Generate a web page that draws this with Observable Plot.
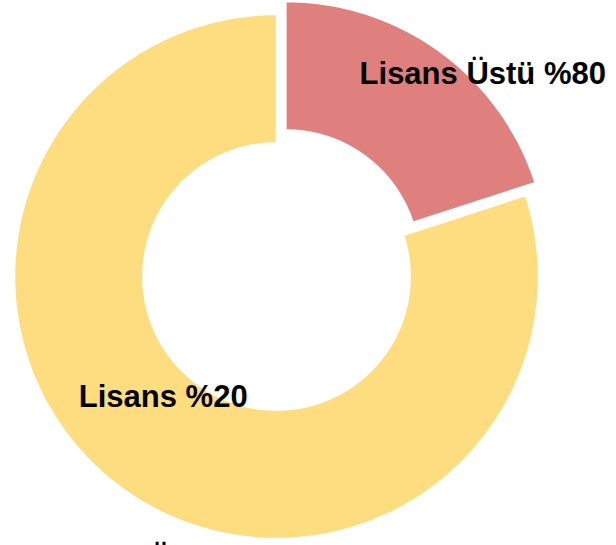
<!DOCTYPE html>
<html>
<head>
<meta charset="utf-8">
<script src="https://cdn.jsdelivr.net/npm/d3@7"></script>
<script src="https://cdn.jsdelivr.net/npm/@observablehq/plot@0.6"></script>
<style>
  html, body { margin: 0; padding: 0; background: #fff; overflow: hidden; }
  #chart svg { display: block; }
  #caption {
    width: 552px; text-align: center; margin-top: 7px;
    font: bold 31px "Liberation Sans", Arial, sans-serif; line-height: 31px; color: #000;
  }
</style>
</head>
<body>
<div id="chart"></div>
<div id="caption"></div>
<script>
// ---- data ----
const categories = ["Lisans Üstü", "Lisans"];
const shares = [20, 80];            // slice sizes (angle share)
const labelPercents = [80, 20];     // percentages as printed on the labels
const colors = ["#df7f7e", "#fedd81"];
const captionText = "Öğrenim Durumu";

// ---- build table ----
const rows = categories.map((c, i) => ({category: c, share: shares[i], pct: labelPercents[i]}));
const inner = 0.51;     // inner radius relative to outer
const explode = 0.061;  // offset of the first slice
const arcs = d3.pie().sort(null).value(d => d.share)(rows);

const points = [];
arcs.forEach((a, i) => {
  const mid = (a.startAngle + a.endAngle) / 2;
  const off = i === 0 ? explode : 0;
  const ox = Math.sin(mid) * off, oy = Math.cos(mid) * off;
  const n = Math.ceil((a.endAngle - a.startAngle) / (2 * Math.PI) * 240) + 1;
  for (let k = 0; k <= n; k++) {
    const t = a.startAngle + (a.endAngle - a.startAngle) * k / n;
    points.push({category: a.data.category, x: ox + Math.sin(t), y: oy + Math.cos(t)});
  }
  for (let k = n; k >= 0; k--) {
    const t = a.startAngle + (a.endAngle - a.startAngle) * k / n;
    points.push({category: a.data.category, x: ox + inner * Math.sin(t), y: oy + inner * Math.cos(t)});
  }
});

const labelR = (1 + inner) / 2;
const labels = arcs.map(a => {
  const mid = (a.startAngle + a.endAngle) / 2;
  return {category: a.data.category, text: `${a.data.category} %${a.data.pct}`,
          x: labelR * Math.sin(mid), y: labelR * Math.cos(mid)};
});

const font = {fontFamily: "Liberation Sans, Arial, sans-serif", fontSize: 31, fontWeight: "bold", fill: "#000"};

const chart = Plot.plot({
  width: 616,
  height: 536,
  margin: 0,
  x: {domain: [-1, 1], range: [14, 538], axis: null},
  y: {domain: [-1, 1], range: [538, 14], axis: null},
  color: {domain: categories, range: colors},
  style: {background: "#fff", overflow: "visible"},
  marks: [
    Plot.line(points, {x: "x", y: "y", z: "category", fill: "category", stroke: "white", strokeWidth: 1.5, curve: "linear-closed"}),
    Plot.text(labels.filter(d => d.category === categories[0]), {x: "x", y: "y", text: "text", dx: 90, dy: -42, lineAnchor: "middle", textAnchor: "middle", ...font}),
    Plot.text(labels.filter(d => d.category === categories[1]), {x: "x", y: "y", text: "text", dx: 3, dy: -39, lineAnchor: "middle", textAnchor: "middle", ...font})
  ]
});
document.getElementById("chart").appendChild(chart);
document.getElementById("caption").textContent = captionText;
</script>
</body>
</html>
